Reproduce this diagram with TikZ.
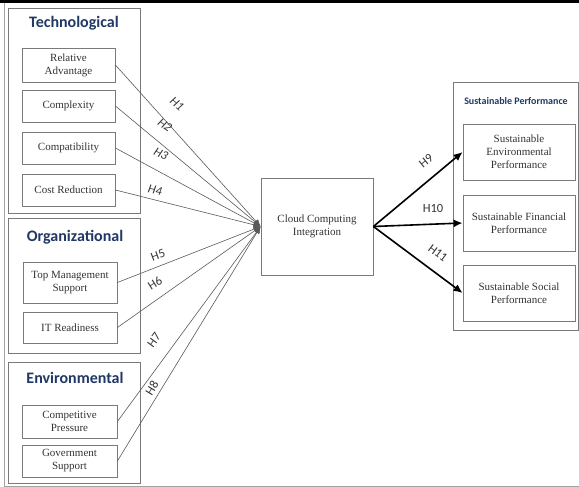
\documentclass[tikz,border=0pt]{standalone}
\usepackage{fontspec}
\setmainfont{Liberation Serif}
\newfontfamily\calib{Carlito}
\usetikzlibrary{arrows.meta}
\definecolor{navy}{HTML}{1F3864}
\definecolor{frame}{HTML}{7A7A7A}
\definecolor{ink}{HTML}{333333}
\tikzset{
  group/.style={draw=frame, line width=0.9pt},
  item/.style={draw=frame, line width=0.8pt, align=center, text=ink,
    font=\fontsize{11}{13}\selectfont, inner sep=0pt},
  grouptitle/.style={font=\calib\bfseries\fontsize{16}{18}\selectfont, text=navy},
  link/.style={draw=black!65, line width=0.6pt, -{Latex[length=7pt,width=6pt]}},
  outlink/.style={draw=black, line width=1.6pt, -{Latex[length=9pt,width=8pt]}},
  hlab/.style={font=\calib\fontsize{12.5}{14}\selectfont, text=ink, inner sep=0pt},
  hlabit/.style={hlab, font=\calib\itshape\fontsize{12.5}{14}\selectfont},
}
\begin{document}
\begin{tikzpicture}[x=1pt,y=-1pt]
\useasboundingbox (0,0) rectangle (579,487);
% page frame
\draw[line width=3pt] (0,1.5) -- (579,1.5);
\draw[frame!70, line width=0.8pt] (4.5,3) -- (4.5,486) -- (579,486);

% factor groups
\draw[group] (8,8) rectangle (140,213);
\draw[group] (8,218) rectangle (140,353);
\draw[group] (8,362) rectangle (140,483);
\node[grouptitle] (tt) at (74,23) {Technological};
\node[grouptitle] (to) at (75,237) {Organizational};
\node[grouptitle] (te) at (75,378) {Environmental};

% factor boxes
\node[item, minimum width=93pt, minimum height=34pt] (ra) at (68.5,65) {Relative\\Advantage};
\node[item, minimum width=93pt, minimum height=32pt] (cx) at (68.5,106) {Complexity};
\node[item, minimum width=93pt, minimum height=32pt] (cp) at (68.5,148) {Compatibility};
\node[item, minimum width=93pt, minimum height=32pt] (cr) at (68.5,190) {Cost Reduction};
\node[item, minimum width=94pt, minimum height=41pt] (tm) at (70,282.5) {Top Management\\Support};
\node[item, minimum width=94pt, minimum height=31pt] (it) at (70,327.5) {IT Readiness};
\node[item, minimum width=95pt, minimum height=33pt] (pr) at (69.5,421.5) {Competitive\\Pressure};
\node[item, minimum width=95pt, minimum height=32pt] (gs) at (69.5,461) {Government\\Support};

% central construct
\node[item, minimum width=112pt, minimum height=97pt] (cci) at (317,226.5) {Cloud Computing\\Integration};

% outcome group
\draw[group] (453,82) rectangle (578,330);
\node[font=\calib\bfseries\fontsize{10}{12}\selectfont, text=navy] (tp) at (516,101) {Sustainable Performance};
\node[item, minimum width=112pt, minimum height=56pt] (sep) at (519,152) {Sustainable\\Environmental\\Performance};
\node[item, minimum width=112pt, minimum height=56pt] (sfp) at (519,223) {Sustainable Financial\\Performance};
\node[item, minimum width=112pt, minimum height=56pt] (ssp) at (519,293) {Sustainable Social\\Performance};

% hypotheses into the central construct
\foreach \s in {ra,cx,cp,cr,tm,it,pr,gs}
  \draw[link] (\s.east) -- (cci.west);

% hypotheses out of the central construct
\draw[outlink] (cci.east) -- (sep.west);
\draw[outlink] (cci.east) -- (sfp.west);
\draw[outlink] (cci.east) -- (ssp.west);

% hypothesis labels
\node[hlabit, rotate=-40] (h1) at (177,104) {H1};
\node[hlabit, rotate=-36] (h2) at (165,125) {H2};
\node[hlabit, rotate=-27] (h3) at (161,154) {H3};
\node[hlabit, rotate=-12] (h4) at (155,190) {H4};
\node[hlab, rotate=20] (h5) at (158,255) {H5};
\node[hlab, rotate=32] (h6) at (155,283) {H6};
\node[hlab, rotate=54] (h7) at (154,340) {H7};
\node[hlab, rotate=59] (h8) at (152,388) {H8};
\node[hlab, rotate=39] (h9) at (426,161) {H9};
\node[hlab] (h10) at (433,208) {H10};
\node[hlab, rotate=-37] (h11) at (438,253) {H11};
\end{tikzpicture}
\end{document}
